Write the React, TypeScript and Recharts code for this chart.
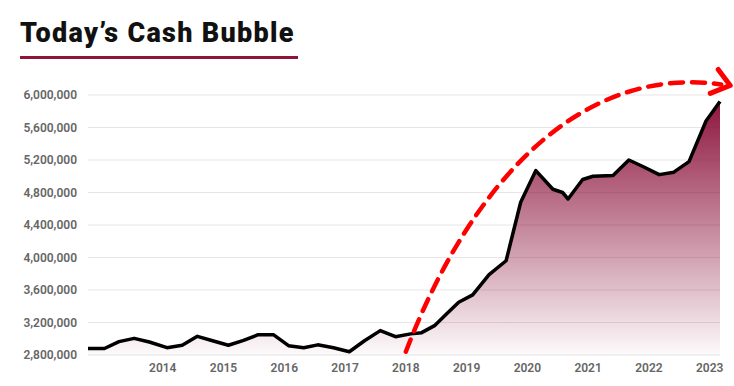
import React from "react";
import { ComposedChart, Area, Line, XAxis, YAxis, CartesianGrid } from "recharts";

const years = [
  2012.77, 2013.04, 2013.28, 2013.53, 2013.78, 2014.07, 2014.32, 2014.57, 2014.82, 2015.08,
  2015.33, 2015.57, 2015.82, 2016.07, 2016.32, 2016.55, 2016.81, 2017.07, 2017.32, 2017.58,
  2017.83, 2018.08, 2018.26, 2018.48, 2018.69, 2018.87, 2019.1, 2019.37, 2019.65, 2019.89,
  2020.14, 2020.42, 2020.58, 2020.67, 2020.91, 2021.08, 2021.41, 2021.67, 2021.9, 2022.17,
  2022.41, 2022.66, 2022.94, 2023.17,
];
const cash = [
  2880000, 2880000, 2965000, 3005000, 2960000, 2890000, 2920000, 3030000, 2975000, 2920000,
  2980000, 3050000, 3050000, 2915000, 2890000, 2925000, 2890000, 2840000, 2975000, 3100000,
  3025000, 3060000, 3075000, 3165000, 3320000, 3450000, 3540000, 3790000, 3960000, 4680000,
  5070000, 4840000, 4800000, 4720000, 4960000, 5000000, 5010000, 5200000, 5120000, 5020000,
  5050000, 5180000, 5680000, 5920000,
];
const yearTicks = [2014, 2015, 2016, 2017, 2018, 2019, 2020, 2021, 2022, 2023];
const valueTicks = [2800000, 3200000, 3600000, 4000000, 4400000, 4800000, 5200000, 5600000, 6000000];
const xDomain = [2012.77, 2023.17];
const yDomain = [2800000, 6000000];

// annotation arrow, in data units (year, value)
const arrowStart = [2018.0, 2840000];
const arrowC1 = [2019.08, 4950000];
const arrowC2 = [2020.89, 6370000];
const arrowEnd = [2023.19, 6130000];

const data = years.map((y, i) => ({ year: y, cash: cash[i] }));

const W = 734;
const H = 386;
const M = { top: 95, right: 14, bottom: 6, left: 8 };
const Y_AXIS_W = 80;
const X_AXIS_H = 25;
const plotL = M.left + Y_AXIS_W;
const plotR = W - M.right;
const plotT = M.top;
const plotB = H - M.bottom - X_AXIS_H;
const sx = (v: number) => plotL + ((v - xDomain[0]) / (xDomain[1] - xDomain[0])) * (plotR - plotL);
const sy = (v: number) => plotB - ((v - yDomain[0]) / (yDomain[1] - yDomain[0])) * (plotB - plotT);

const fmt = (v: number) => v.toLocaleString("en-US");

export default function App() {
  const p0 = [sx(arrowStart[0]), sy(arrowStart[1])];
  const p1 = [sx(arrowC1[0]), sy(arrowC1[1])];
  const p2 = [sx(arrowC2[0]), sy(arrowC2[1])];
  const p3 = [sx(arrowEnd[0]), sy(arrowEnd[1])];
  const tip = [p3[0] + 9, p3[1] + 1];
  return (
    <div style={{ position: "relative", width: W, height: H, background: "#fff", fontFamily: "Roboto, sans-serif" }}>
      <style>{`body{margin:0}`}</style>
      <div
        style={{
          position: "absolute",
          left: 20,
          top: 16,
          fontSize: 27,
          fontWeight: 900,
          color: "#111",
          letterSpacing: 1.3,
          lineHeight: "34px",
          whiteSpace: "nowrap",
        }}
      >
        Today’s Cash Bubble
      </div>
      <div style={{ position: "absolute", left: 20, top: 56, width: 278, height: 3, background: "#8f1437" }} />
      <div style={{ position: "absolute", left: 0, top: 0 }}>
        <ComposedChart width={W} height={H} data={data} margin={M}>
          <defs>
            <linearGradient id="cashFill" x1="0" y1="0" x2="0" y2="1">
              <stop offset="0%" stopColor="#8a0f38" stopOpacity={0.97} />
              <stop offset="100%" stopColor="#8a0f38" stopOpacity={0.02} />
            </linearGradient>
          </defs>
          <CartesianGrid vertical={false} stroke="#e6e6e6" strokeWidth={1.2} />
          <XAxis
            dataKey="year"
            type="number"
            domain={xDomain}
            ticks={yearTicks}
            axisLine={false}
            tickLine={false}
            height={X_AXIS_H}
            tick={{ fill: "#666", fontSize: 12, fontWeight: 600, fontFamily: "Roboto" }}
          />
          <YAxis
            type="number"
            domain={yDomain}
            ticks={valueTicks}
            axisLine={false}
            tickLine={false}
            width={Y_AXIS_W}
            tickMargin={5}
            tickFormatter={fmt}
            tick={{ fill: "#666", fontSize: 12, fontWeight: 600, fontFamily: "Roboto" }}
          />
          <Area
            dataKey="cash"
            type="linear"
            stroke="none"
            fill="url(#cashFill)"
            fillOpacity={1}
            isAnimationActive={false}
          />
          <Line
            dataKey="cash"
            type="linear"
            stroke="#000"
            strokeWidth={3.5}
            dot={false}
            strokeLinejoin="round"
            isAnimationActive={false}
          />
        </ComposedChart>
      </div>
      <svg width={W} height={H} style={{ position: "absolute", left: 0, top: 0, pointerEvents: "none" }}>
        <path
          d={`M${p0[0]},${p0[1]} C${p1[0]},${p1[1]} ${p2[0]},${p2[1]} ${p3[0]},${p3[1]}`}
          fill="none"
          stroke="#ff0000"
          strokeWidth={4.5}
          strokeDasharray="13 9"
          strokeLinecap="round"
        />
        <path
          d={`M${tip[0] - 12},${tip[1] - 16} L${tip[0]},${tip[1]} L${tip[0] - 20},${tip[1] + 8}`}
          fill="none"
          stroke="#ff0000"
          strokeWidth={5}
          strokeLinecap="round"
          strokeLinejoin="round"
        />
      </svg>
    </div>
  );
}
